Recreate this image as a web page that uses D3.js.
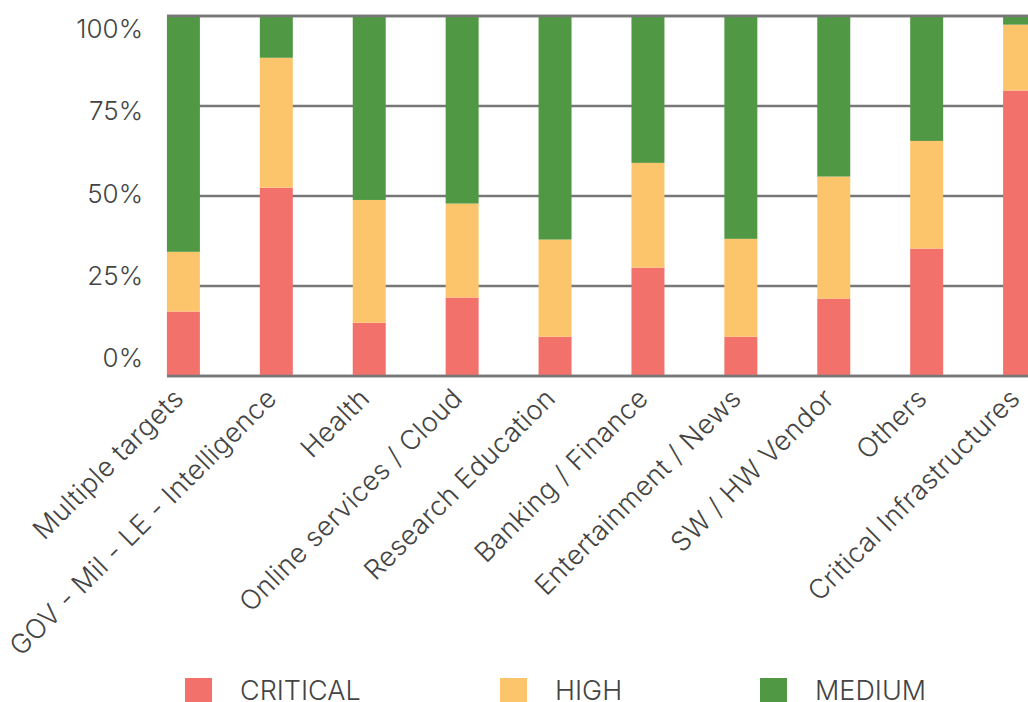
<!DOCTYPE html>
<html lang="en">
<head>
  <meta charset="UTF-8" />
  <title>Attack targets by severity</title>
  <script src="https://d3js.org/d3.v7.min.js"></script>
  <style>
    body { margin: 0; padding: 0; background: #fff; overflow: hidden; }
    svg { display: block; font-family: Inter, "Open Sans", sans-serif; font-weight: 300; }
    .ylab { font-size: 26px; fill: #444; }
    .xlab { font-size: 27px; fill: #444; letter-spacing: 0.4px; }
    .leg { font-size: 27px; fill: #444; }
  </style>
</head>
<body>
<svg width="1028" height="702"></svg>
<script>
  // Data (percent per category)
  const categories = ["Multiple targets", "GOV - Mil - LE - Intelligence", "Health", "Online services / Cloud",
    "Research Education", "Banking / Finance", "Entertainment / News", "SW / HW Vendor", "Others", "Critical Infrastructures"];
  const critical = [17.9, 52.3, 14.8, 21.8, 10.9, 30.1, 10.9, 21.5, 35.4, 79.3];
  const high     = [16.6, 36.1, 34.1, 26.1, 27.0, 29.1, 27.2, 33.9, 29.9, 18.3];
  const medium   = [65.5, 11.6, 51.1, 52.1, 62.1, 40.8, 61.9, 44.6, 34.7, 2.4];
  const seriesNames = ["CRITICAL", "HIGH", "MEDIUM"];
  const yTicks = [0, 25, 50, 75, 100];

  const colors = { CRITICAL: "#f2716b", HIGH: "#fdc56b", MEDIUM: "#519844" };

  const svg = d3.select("svg");
  const plotL = 167, plotR = 1028, plotT = 16, plotB = 376;

  const x = d3.scaleBand().domain(categories).range([107, 1096]).padding(0.645);
  const y = d3.scaleLinear().domain([0, 100]).range([plotB, plotT]);
  // tick labels sit on their own evenly spaced track, as in the source
  const yLab = d3.scaleLinear().domain([0, 100]).range([358, 29]);

  // gridlines
  svg.append("g").selectAll("line").data(yTicks).enter().append("line")
    .attr("x1", plotL).attr("x2", plotR)
    .attr("y1", d => y(d)).attr("y2", d => y(d))
    .attr("stroke", "#777").attr("stroke-width", 2.5);

  // stacked bars
  const rows = categories.map((c, i) => ({ cat: c, CRITICAL: critical[i], HIGH: high[i], MEDIUM: medium[i] }));
  const stacked = d3.stack().keys(seriesNames)(rows);

  svg.append("g").selectAll("g").data(stacked).enter().append("g")
    .attr("fill", s => colors[s.key])
    .selectAll("rect").data(s => s).enter().append("rect")
    .attr("x", d => x(d.data.cat))
    .attr("width", x.bandwidth())
    .attr("y", d => y(d[1]))
    .attr("height", d => y(d[0]) - y(d[1]));

  // top / bottom lines over bars
  svg.append("g").selectAll("line").data([0, 100]).enter().append("line")
    .attr("x1", plotL).attr("x2", plotR)
    .attr("y1", d => y(d)).attr("y2", d => y(d))
    .attr("stroke", "#777").attr("stroke-width", 2.5);

  // y labels
  svg.append("g").selectAll("text").data(yTicks).enter().append("text")
    .attr("class", "ylab")
    .attr("x", 143).attr("y", d => yLab(d))
    .attr("dy", "0.35em")
    .attr("text-anchor", "end")
    .text(d => d + "%");

  // x labels
  svg.append("g").selectAll("text").data(categories).enter().append("text")
    .attr("class", "xlab")
    .attr("text-anchor", "end")
    .attr("transform", d => `translate(${x(d) + x.bandwidth() / 2 + 2},${400}) rotate(-45)`)
    .text(d => d);

  // legend
  const legX = [185, 500, 760];
  const leg = svg.append("g").selectAll("g").data(seriesNames).enter().append("g")
    .attr("transform", (d, i) => `translate(${legX[i]},678)`);
  leg.append("rect").attr("width", 27).attr("height", 24).attr("fill", d => colors[d]);
  leg.append("text").attr("class", "leg").attr("x", 55).attr("y", 22).text(d => d);
</script>
</body>
</html>
